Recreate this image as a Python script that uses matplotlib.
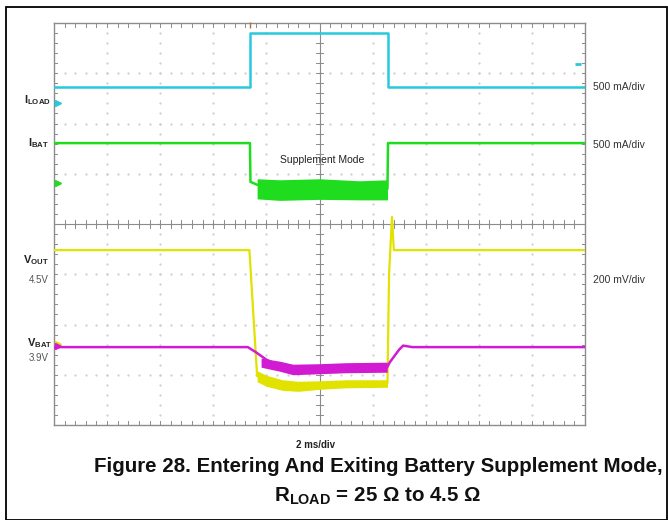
"""Scope capture: entering and exiting battery supplement mode."""

import matplotlib

matplotlib.use("Agg")
import matplotlib.pyplot as plt
from matplotlib.patches import Rectangle

plt.rcParams["font.family"] = ["Liberation Sans", "DejaVu Sans"]
plt.rcParams["mathtext.fontset"] = "custom"
plt.rcParams["mathtext.rm"] = "Liberation Sans"
plt.rcParams["mathtext.bf"] = "Liberation Sans:bold"

# time in ms (2 ms/div), levels in screen divisions (0 = bottom of graticule)
iload_t = [0.0, 7.38, 7.38, 12.58, 12.58, 20.0]
iload_v = [6.73, 6.73, 7.81, 7.81, 6.73, 6.73]

ibat_t = [0.0, 7.38, 7.40, 7.65, 12.56, 12.58, 20.0]
ibat_v = [5.61, 5.61, 4.84, 4.78, 4.70, 5.61, 5.61]
ibat_band_t = [7.65, 8.5, 10.0, 11.5, 12.56]
ibat_band_hi = [4.90, 4.88, 4.90, 4.86, 4.88]
ibat_band_lo = [4.50, 4.47, 4.49, 4.48, 4.48]

vout_t = [0.0, 7.36, 7.65, 8.0, 8.6, 9.2, 10.0, 11.0, 12.56, 12.62, 12.73, 12.80, 20.0]
vout_v = [3.48, 3.48, 0.98, 0.88, 0.80, 0.78, 0.80, 0.82, 0.83, 3.00, 4.14, 3.48, 3.48]
vout_band_t = [7.65, 8.0, 8.6, 9.2, 10.0, 11.0, 12.56]
vout_band_hi = [1.08, 0.99, 0.90, 0.87, 0.88, 0.90, 0.90]
vout_band_lo = [0.86, 0.77, 0.69, 0.67, 0.71, 0.74, 0.75]

vbat_t = [0.0, 7.30, 7.60, 8.0, 8.5, 9.0, 10.0, 11.0, 12.55, 12.65, 13.0, 13.15, 13.5, 20.0]
vbat_v = [1.55, 1.55, 1.45, 1.30, 1.18, 1.10, 1.12, 1.14, 1.15, 1.25, 1.50, 1.58, 1.55, 1.55]
vbat_band_t = [7.80, 8.5, 9.0, 10.0, 11.0, 12.55]
vbat_band_hi = [1.33, 1.27, 1.21, 1.22, 1.24, 1.25]
vbat_band_lo = [1.15, 1.07, 1.00, 1.02, 1.04, 1.05]

# ground reference arrows on the left edge
ref_levels = [6.40, 4.82, 1.61, 1.57]

scale_labels = ["500 mA/div", "500 mA/div", "200 mV/div"]

CYAN = "#27c9dc"
GREEN = "#1fdc1f"
YELLOW = "#e2e200"
MAGENTA = "#d21ad2"
GRID = "#8c8c8c"

W, H = 668, 520


def fx(px):
    return px / W


def fy(py):
    return 1 - py / H


def draw_graticule(ax):
    # dotted division lines
    for i in range(1, 10):
        ax.plot([i * 2] * 41, [k * 0.2 for k in range(41)], ls="none",
                marker=".", ms=1.2, color="#cdcdcd", zorder=1)
    for j in range(1, 8):
        ax.plot([k * 0.4 for k in range(51)], [j] * 51, ls="none",
                marker=".", ms=1.2, color="#cdcdcd", zorder=1)
    # centre cross
    ax.axvline(10, color=GRID, lw=0.8, zorder=1)
    ax.axhline(4, color=GRID, lw=0.8, zorder=1)
    # minor ticks on centre lines and borders
    for k in range(51):
        x = k * 0.4
        ax.plot([x, x], [3.93, 4.07], color=GRID, lw=0.7, zorder=1)
        ax.plot([x, x], [0, 0.07], color=GRID, lw=0.7, zorder=1)
        ax.plot([x, x], [7.93, 8], color=GRID, lw=0.7, zorder=1)
    for k in range(41):
        y = k * 0.2
        ax.plot([9.87, 10.13], [y, y], color=GRID, lw=0.7, zorder=1)
        ax.plot([0, 0.13], [y, y], color=GRID, lw=0.7, zorder=1)
        ax.plot([19.87, 20], [y, y], color=GRID, lw=0.7, zorder=1)


def main():
    fig = plt.figure(figsize=(W / 100, H / 100), dpi=100)
    ax = fig.add_axes([fx(54), fy(425), (585 - 54) / W, (425 - 23) / H])
    ax.set_xlim(0, 20)
    ax.set_ylim(0, 8)
    ax.set_xticks([])
    ax.set_yticks([])
    for s in ax.spines.values():
        s.set_color(GRID)
        s.set_linewidth(1.0)

    draw_graticule(ax)

    ax.plot(iload_t, iload_v, color=CYAN, lw=1.8, zorder=3)
    ax.plot(ibat_t, ibat_v, color=GREEN, lw=1.8, zorder=3)
    ax.fill_between(ibat_band_t, ibat_band_lo, ibat_band_hi, color=GREEN, lw=0, zorder=3)
    ax.plot(vout_t, vout_v, color=YELLOW, lw=1.6, zorder=3)
    ax.fill_between(vout_band_t, vout_band_lo, vout_band_hi, color=YELLOW, lw=0, zorder=3)
    ax.plot(vbat_t, vbat_v, color=MAGENTA, lw=1.8, zorder=4)
    ax.fill_between(vbat_band_t, vbat_band_lo, vbat_band_hi, color=MAGENTA, lw=0, zorder=4)

    for lvl, c in zip(ref_levels, [CYAN, GREEN, YELLOW, MAGENTA]):
        ax.plot([0.15], [lvl], marker=">", ms=5, color=c, clip_on=False, zorder=5)
    # trigger position / level markers
    ax.plot([7.38], [7.97], marker="|", ms=4, color="#b0703a", clip_on=False, zorder=5)
    ax.plot([19.74], [7.19], marker="_", ms=4, mew=2, color=CYAN, zorder=5)

    ax.text(10.1, 5.27, "Supplement Mode", fontsize=7.5, color="#222222",
            ha="center", va="center", zorder=6)

    # channel labels on the left
    lab = dict(ha="right", va="center", fontsize=8, color="#222222")
    fig.text(fx(51), fy(100), r"$\mathbf{I}_{\mathbf{LOAD}}$", **lab)
    fig.text(fx(49), fy(143), r"$\mathbf{I}_{\mathbf{BAT}}$", **lab)
    fig.text(fx(49), fy(260), r"$\mathbf{V}_{\mathbf{OUT}}$", **lab)
    fig.text(fx(49), fy(280), "4.5V", ha="right", va="center", fontsize=7, color="#555555")
    fig.text(fx(52), fy(343), r"$\mathbf{V}_{\mathbf{BAT}}$", **lab)
    fig.text(fx(49), fy(358), "3.9V", ha="right", va="center", fontsize=7, color="#555555")

    for py, txt in zip([87, 145, 280], scale_labels):
        fig.text(fx(593), fy(py), txt, ha="left", va="center", fontsize=7.5, color="#333333")

    fig.text(fx(315), fy(445), "2 ms/div", ha="center", va="center",
             fontsize=7, fontweight="bold", color="#222222")

    title = dict(ha="center", va="center", fontsize=14.8, fontweight="bold", color="#111111")
    fig.text(fx(378), fy(467), "Figure 28. Entering And Exiting Battery Supplement Mode,", **title)
    fig.text(fx(378), fy(496), r"R$_{\mathbf{LOAD}}$ = 25 Ω to 4.5 Ω", **title)

    fig.add_artist(Rectangle((fx(6), 0.0), fx(667) - fx(6), fy(7), transform=fig.transFigure,
                             fill=False, ec="black", lw=1.3))

    fig.savefig("out.png", dpi=100)
    plt.close(fig)


if __name__ == "__main__":
    main()
